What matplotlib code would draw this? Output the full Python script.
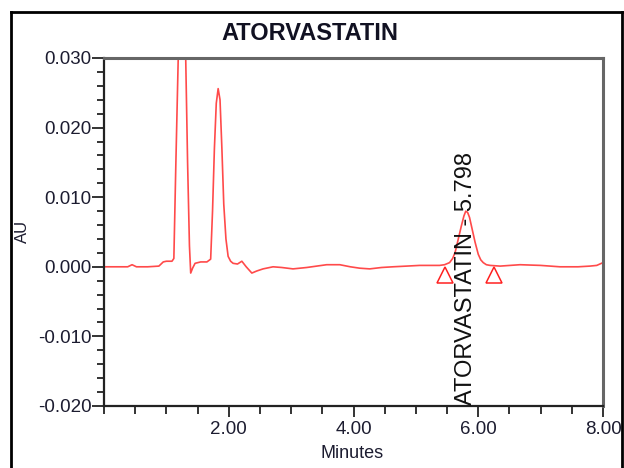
#Import modules
import numpy as np
import matplotlib
matplotlib.use("Agg")
import matplotlib.pyplot as plt
from matplotlib.lines import Line2D
from matplotlib.ticker import MultipleLocator, FixedLocator

plt.rcParams['font.family'] = ['Liberation Sans', 'DejaVu Sans']

#Chromatogram trace (minutes, AU)
timeMin = [0.00, 0.20, 0.38, 0.45, 0.52, 0.70, 0.88, 0.95, 1.00, 1.09, 1.12,
           1.15, 1.19, 1.22, 1.25, 1.28, 1.31, 1.34, 1.37, 1.39, 1.42, 1.46,
           1.55, 1.65, 1.71, 1.74, 1.77, 1.80, 1.83, 1.86, 1.89, 1.92, 1.955,
           1.99, 2.03, 2.07, 2.14, 2.21, 2.28, 2.37, 2.45, 2.55, 2.71, 2.85,
           3.03, 3.25, 3.57, 3.78, 3.95, 4.10, 4.26, 4.45, 4.63, 4.85, 5.06,
           5.25, 5.38, 5.46, 5.54, 5.59, 5.63, 5.68, 5.73, 5.77, 5.80, 5.83,
           5.86, 5.89, 5.95, 6.00, 6.04, 6.08, 6.13, 6.19, 6.35, 6.67, 7.00,
           7.31, 7.60, 7.79, 7.90, 7.95, 8.00]
absAU = [0.0000, 0.0000, 0.0000, 0.0003, 0.0000, 0.0000, 0.0001, 0.0007, 0.0008, 0.0008, 0.0012,
         0.0140, 0.0300, 0.0400, 0.0440, 0.0400, 0.0300, 0.0150, 0.0030, -0.0009, -0.0002, 0.0005,
         0.0007, 0.0007, 0.0011, 0.0080, 0.0170, 0.0235, 0.0256, 0.0240, 0.0170, 0.0090, 0.0040,
         0.0015, 0.0008, 0.0005, 0.0004, 0.0008, 0.0000, -0.0009, -0.0006, -0.0003, 0.0000, -0.0001,
         -0.0003, -0.0001, 0.0003, 0.0003, 0.0000, -0.0002, -0.0003, -0.0001, 0.0000, 0.0001, 0.0002,
         0.0002, 0.0002, 0.0003, 0.0006, 0.0012, 0.0021, 0.0040, 0.0059, 0.0073, 0.0080, 0.0078,
         0.0071, 0.0059, 0.0035, 0.0018, 0.0010, 0.0006, 0.0003, 0.0002, 0.0001, 0.0003, 0.0002,
         0.0000, 0.0000, 0.0001, 0.0002, 0.0004, 0.0006]

#Peak start / end markers
markT = [5.46, 6.25]
markY = [-0.00115, -0.00115]

peakName = "ATORVASTATIN"
peakTime = 5.798

xTicks = [2, 4, 6, 8]
xTickLabels = ["2.00", "4.00", "6.00", "8.00"]
yTicks = [-0.020, -0.010, 0.000, 0.010, 0.020, 0.030]
yTickLabels = ["-0.020", "-0.010", "0.000", "0.010", "0.020", "0.030"]

W, H = 624, 468
fig = plt.figure(figsize=(W/100, H/100), dpi=100)
ax = fig.add_axes([104/W, 1 - 406/H, (603 - 104)/W, (406 - 58)/H])

ax.plot(timeMin, absAU, '-', color='#ff2a2a', lw=1.2, alpha=0.85)
ax.plot(markT, markY, '^', ms=12, mfc='none', mec='#ff2020', mew=1.1)

ax.set_xlim(0, 8)
ax.set_ylim(-0.020, 0.030)

#Ticks
ax.xaxis.set_major_locator(FixedLocator(xTicks))
ax.set_xticklabels(xTickLabels)
ax.xaxis.set_minor_locator(MultipleLocator(0.5))
ax.yaxis.set_major_locator(FixedLocator(yTicks))
ax.set_yticklabels(yTickLabels)
ax.yaxis.set_minor_locator(MultipleLocator(0.002))
ax.tick_params(axis='both', which='major', direction='out', width=1.4, colors='#333333',
               labelcolor='#1c1c30', labelsize=13.5)
ax.tick_params(axis='x', which='major', length=8, pad=3)
ax.tick_params(axis='y', which='major', length=9, pad=0)
ax.tick_params(axis='x', which='minor', direction='out', length=6, width=1.4, color='#333333')
ax.tick_params(axis='y', which='minor', direction='out', length=5, width=1.4, color='#333333')

for s in ['left', 'bottom']:
    ax.spines[s].set_color('#222222')
    ax.spines[s].set_linewidth(1.6)
for s in ['top', 'right']:
    ax.spines[s].set_color('#666666')
    ax.spines[s].set_linewidth(2.2)

#Peak annotation
ax.text(peakTime, -0.0199, peakName + " - %.3f" % peakTime, rotation=90,
        ha='center', va='bottom', fontsize=17, color='#111111')

#Titles
fig.text(310/W, 1 - 33/H, peakName, ha='center', va='center', fontsize=17,
         fontweight='bold', color='#111122')
fig.text(352/W, 1 - 454/H, "Minutes", ha='center', va='center', fontsize=13, color='#1c1c30')
fig.text(22/W, 1 - 231/H, "AU", ha='center', va='center', rotation=90, fontsize=12, color='#1c1c30')

#Outer frame
fig.add_artist(Line2D([11/W, 11/W], [0, 1 - 12/H], color='black', lw=2))
fig.add_artist(Line2D([11/W, 622/W], [1 - 12/H, 1 - 12/H], color='black', lw=2))
fig.add_artist(Line2D([622/W, 622/W], [0, 1 - 12/H], color='black', lw=2))

fig.savefig("out.png", dpi=100)
